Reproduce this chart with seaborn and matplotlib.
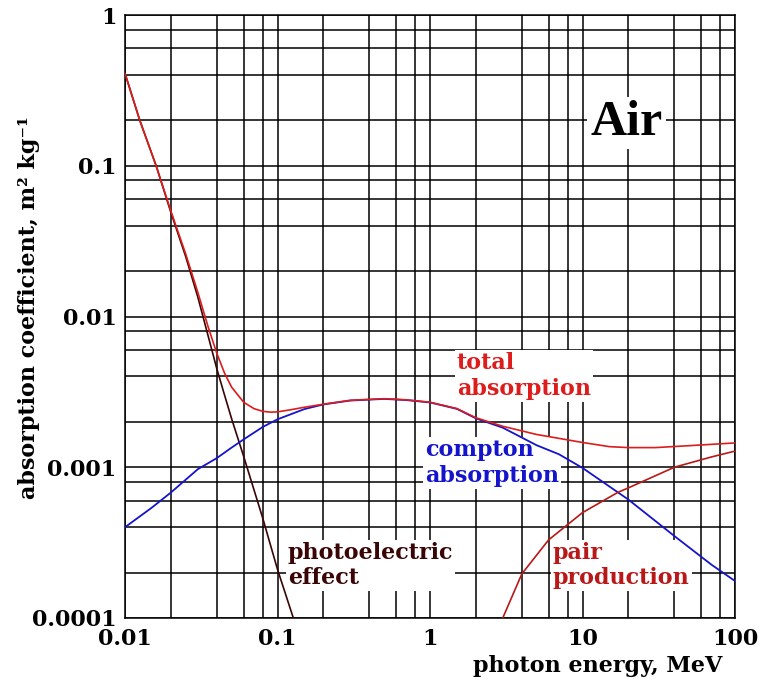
import numpy as np
import pandas as pd
import seaborn as sns
import matplotlib.pyplot as plt
from matplotlib.ticker import LogLocator, NullFormatter, FixedFormatter, FixedLocator

# 讀圖估計的數值 (photon energy MeV, coefficient m2/kg)
total_e = [0.01, 0.0125, 0.016, 0.02, 0.025, 0.03, 0.035, 0.04, 0.045, 0.05, 0.06, 0.07, 0.08,
           0.09, 0.1, 0.12, 0.15, 0.2, 0.3, 0.5, 0.7, 1, 1.5, 2, 3, 5, 10, 15, 20, 30, 50, 100]
total_mu = [0.41, 0.2, 0.1, 0.05, 0.026, 0.0145, 0.0086, 0.0057, 0.0042, 0.0034, 0.0027, 0.00245,
            0.00235, 0.00232, 0.00233, 0.0024, 0.0025, 0.00262, 0.00278, 0.00285, 0.0028, 0.0027,
            0.00245, 0.00213, 0.00187, 0.00165, 0.00146, 0.00137, 0.00135, 0.00135, 0.00139, 0.00145]

compton_e = [0.01, 0.015, 0.02, 0.03, 0.04, 0.05, 0.06, 0.08, 0.1, 0.15, 0.2, 0.3, 0.5, 0.7, 1,
             1.5, 2, 3, 5, 7, 10, 20, 40, 70, 100]
compton_mu = [0.0004, 0.00054, 0.00068, 0.00097, 0.00115, 0.00135, 0.00153, 0.00185, 0.00208,
              0.00243, 0.00261, 0.00277, 0.00284, 0.00279, 0.00269, 0.00244, 0.00211, 0.00183,
              0.0014, 0.00122, 0.00099, 0.00061, 0.00035, 0.000226, 0.000176]

photo_e = [0.01, 0.0125, 0.016, 0.02, 0.025, 0.03, 0.035, 0.04, 0.045, 0.05, 0.06, 0.08, 0.1, 0.127]
photo_mu = [0.41, 0.2, 0.1, 0.049, 0.025, 0.0135, 0.0075, 0.0045, 0.003, 0.0021, 0.00118,
            0.00046, 0.00021, 0.0001]

pair_e = [3, 4, 6, 10, 17, 20, 40, 70, 100]
pair_mu = [0.0001, 0.000196, 0.00033, 0.0005, 0.00068, 0.00073, 0.001, 0.00117, 0.00128]

x_ticks = [0.01, 0.1, 1, 10, 100]
x_labels = ['0.01', '0.1', '1', '10', '100']
y_ticks = [0.0001, 0.001, 0.01, 0.1, 1]
y_labels = ['0.0001', '0.001', '0.01', '0.1', '1']

sns.set_style("white")
plt.rcParams["font.family"] = ["DejaVu Serif"]
plt.rcParams["font.weight"] = "bold"
plt.rcParams["font.size"] = 16
plt.rcParams["text.color"] = "black"
plt.rcParams["axes.labelcolor"] = "black"
plt.rcParams["xtick.color"] = "black"
plt.rcParams["ytick.color"] = "black"

c_total = '#dd1c1c'
c_compton = '#1414cc'
c_photo = '#3a0505'
c_pair = '#b81818'

fig = plt.figure(figsize=(7.6, 6.87), dpi=100)
ax = fig.add_axes([125 / 760, 1 - 618 / 687, 610 / 760, 603 / 687])

sns.lineplot(x=photo_e, y=photo_mu, ax=ax, color=c_photo, lw=1.2, zorder=3)
sns.lineplot(x=compton_e, y=compton_mu, ax=ax, color=c_compton, lw=1.3, zorder=3)
sns.lineplot(x=pair_e, y=pair_mu, ax=ax, color=c_pair, lw=1.2, zorder=3)
sns.lineplot(x=total_e, y=total_mu, ax=ax, color=c_total, lw=1.2, zorder=4)

ax.set_xscale('log')
ax.set_yscale('log')
ax.set_xlim(0.01, 100)
ax.set_ylim(0.0001, 1)

ax.xaxis.set_major_locator(FixedLocator(x_ticks))
ax.xaxis.set_major_formatter(FixedFormatter(x_labels))
ax.yaxis.set_major_locator(FixedLocator(y_ticks))
ax.yaxis.set_major_formatter(FixedFormatter(y_labels))
ax.xaxis.set_minor_locator(LogLocator(base=10, subs=[2, 4, 6, 8]))
ax.yaxis.set_minor_locator(LogLocator(base=10, subs=[2, 4, 6, 8]))
ax.xaxis.set_minor_formatter(NullFormatter())
ax.yaxis.set_minor_formatter(NullFormatter())
ax.tick_params(which='both', length=0)
ax.tick_params(axis='x', pad=7)
ax.tick_params(axis='y', pad=6)

ax.grid(which='both', color='black', lw=1.1, zorder=1)
ax.set_axisbelow(True)
for s in ax.spines.values():
    s.set_color('black')
    s.set_linewidth(1.1)

ax.set_xlabel('photon energy, MeV', fontsize=16, fontweight='bold', ha='right')
ax.xaxis.set_label_coords(0.979, -0.062)
ax.set_ylabel('absorption coefficient, m² kg⁻¹', fontsize=16, fontweight='bold')
ax.yaxis.set_label_coords(-0.14, 0.515)

# 文字白底蓋住格線, 曲線畫在上面
box = dict(facecolor='white', edgecolor='none', pad=1.5)
ax.text(1.5, 0.0058, 'total\nabsorption', color=c_total, va='top', ha='left', bbox=box, zorder=2)
ax.text(0.93, 0.00153, 'compton\nabsorption', color=c_compton, va='top', ha='left', bbox=box, zorder=2)
ax.text(0.117, 0.00032, 'photoelectric\neffect', color=c_photo, va='top', ha='left', bbox=box, zorder=2)
ax.text(6.4, 0.00032, 'pair\nproduction', color=c_pair, va='top', ha='left', bbox=box, zorder=2)
ax.text(19.4, 0.16, 'Air', color='black', va='baseline', ha='center', fontsize=36,
        family=['Liberation Serif'], fontweight='bold',
        bbox=dict(facecolor='white', edgecolor='none', pad=2), zorder=2)

fig.savefig('out.png', dpi=100)
